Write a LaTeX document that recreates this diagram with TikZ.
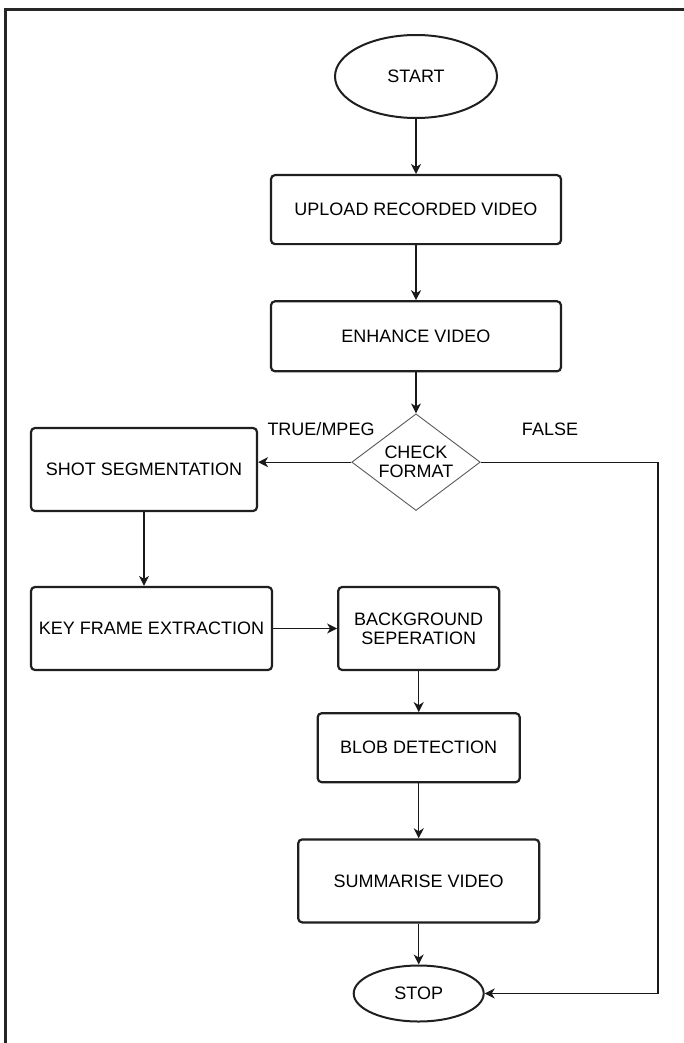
\documentclass[tikz,border=0pt]{standalone}
\usepackage{fontspec}
\setmainfont{Liberation Sans}
\usepackage{tikz}
\usetikzlibrary{positioning}
\usetikzlibrary{shapes.geometric}
\usetikzlibrary{arrows.meta}
\usepackage{xcolor}

\begin{document}
\begin{tikzpicture}[
		x=1pt, y=-1pt,
		% Style definitions - sizes follow the flowchart boxes
		terminal/.style={draw=black!88, line width=2pt, ellipse, inner sep=0pt, fill=white, font=\fontsize{18}{19}\selectfont},
		process/.style={draw=black!88, line width=2.2pt, rounded corners=4pt, inner sep=0pt, fill=white, align=center, font=\fontsize{18}{19}\selectfont},
		decision/.style={draw=black!65, line width=0.9pt, diamond, aspect=1.33, inner sep=2.5pt, fill=white, align=center, font=\fontsize{18}{19}\selectfont},
		branch/.style={font=\fontsize{18}{19}\selectfont, inner sep=0pt},
		arrow/.style={-{Stealth[length=10pt, width=10pt, inset=3pt]}, line width=1.3pt, black!90},
		pageedge/.style={line width=2.5pt, black!85},
		]
		\useasboundingbox (0,0) rectangle (684,1043);

		% Outer frame (top and left edge only)
		\draw[pageedge] (684,9.5) -- (5.5,9.5) -- (5.5,1043);

		% Main column (top to bottom)
		\node[terminal, minimum width=162pt, minimum height=83pt] (start) at (416,76.5) {START};
		\node[process, minimum width=290pt, minimum height=69pt, below=55pt of start] (upload) {UPLOAD RECORDED VIDEO};
		\node[process, minimum width=290pt, minimum height=70pt, below=55pt of upload] (enhance) {ENHANCE VIDEO};
		\node[decision, below=41pt of enhance] (check) {CHECK\\FORMAT};

		% Left branch
		\node[process, minimum width=226pt, minimum height=83pt] (shot) at (144,469.5) {SHOT SEGMENTATION};
		\node[process, minimum width=241pt, minimum height=83pt] (keyframe) at (151.5,628.5) {KEY FRAME EXTRACTION};
		\node[process, minimum width=161pt, minimum height=83pt, right=64pt of keyframe] (bgsep) {BACKGROUND\\SEPERATION};
		\node[process, minimum width=202pt, minimum height=69pt, below=41pt of bgsep] (blob) {BLOB DETECTION};
		\node[process, minimum width=241pt, minimum height=83pt, below=55pt of blob] (summary) {SUMMARISE VIDEO};
		\node[terminal, minimum width=130pt, minimum height=56pt, below=41pt of summary] (stop) {STOP};

		% Branch labels
		\node[branch] (truelbl) at (321,429) {TRUE/MPEG};
		\node[branch] (falselbl) at (550,429) {FALSE};
		\coordinate (falseturn) at (658,0);

		% Arrows - main flow
		\draw[arrow] (start) -- (upload);
		\draw[arrow] (upload) -- (enhance);
		\draw[arrow] (enhance) -- (check);
		\draw[arrow] (check.west) -- (check.west -| shot.east);
		\draw[arrow] (shot.south) -- (shot.south |- keyframe.north);
		\draw[arrow] (keyframe) -- (bgsep);
		\draw[arrow] (bgsep) -- (blob);
		\draw[arrow] (blob) -- (summary);
		\draw[arrow] (summary) -- (stop);

		% Arrow - false branch round the right side
		\draw[arrow] (check.east) -- (check.east -| falseturn) |- (stop.east);

	\end{tikzpicture}
\end{document}
